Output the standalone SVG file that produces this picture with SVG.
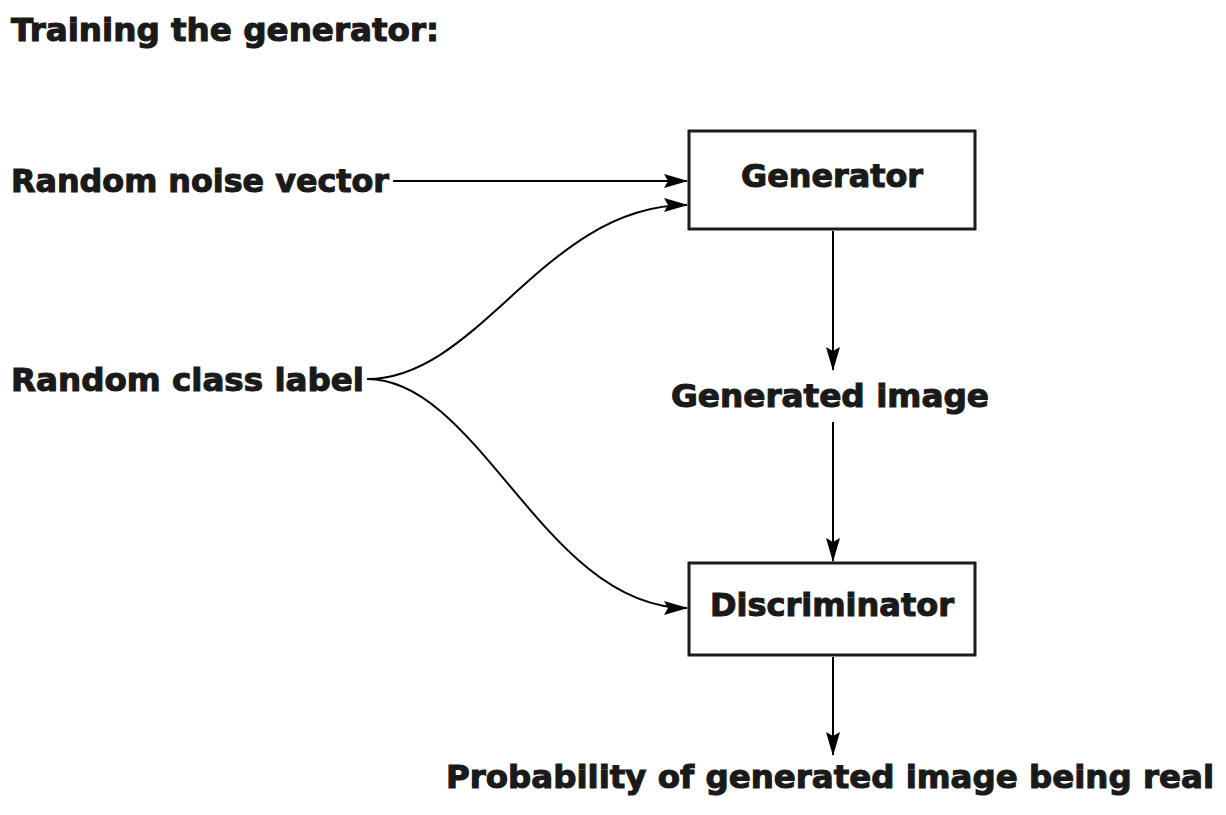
<svg xmlns="http://www.w3.org/2000/svg" width="1226" height="815" viewBox="0 0 1226 815">
<style>
text{font-family:"DejaVu Sans","Open Sans",sans-serif;font-weight:bold;fill:#1a1a1a;stroke:#1a1a1a;stroke-width:1.1;font-size:32px}
.box{fill:#fff;stroke:#1a1a1a;stroke-width:3}
.con{fill:none;stroke:#000;stroke-width:2}
</style>
<defs>
<marker id="ah" markerWidth="24" markerHeight="16" refX="23" refY="8" orient="auto" markerUnits="userSpaceOnUse">
<path d="M0,1 L24,8 L0,15 L4,8 Z" fill="#000"/>
</marker>
</defs>
<rect width="1226" height="815" fill="#fff" stroke="none"/>
<text x="11" y="41" textLength="428" lengthAdjust="spacingAndGlyphs">Training the generator:</text>
<g id="noise"><text x="11" y="192" textLength="378" lengthAdjust="spacingAndGlyphs">Random noise vector</text></g>
<g id="label"><text x="11" y="391" textLength="353" lengthAdjust="spacingAndGlyphs">Random class label</text></g>
<g id="generator">
<rect class="box" x="689" y="131" width="286" height="98"/>
<text x="832" y="187" text-anchor="middle" textLength="182" lengthAdjust="spacingAndGlyphs">Generator</text>
</g>
<g id="genimage"><text x="830" y="407" text-anchor="middle" textLength="318" lengthAdjust="spacingAndGlyphs">Generated image</text></g>
<g id="discriminator">
<rect class="box" x="689" y="563" width="286" height="92"/>
<text x="832" y="616" text-anchor="middle" textLength="244" lengthAdjust="spacingAndGlyphs">Discriminator</text>
</g>
<g id="prob"><text x="446" y="788" textLength="768" lengthAdjust="spacingAndGlyphs">Probability of generated image being real</text></g>
<g id="connectors">
<path class="con" d="M393,181 L687,181" marker-end="url(#ah)"/>
<path class="con" d="M367,379 C480,379 545,205 687,205" marker-end="url(#ah)"/>
<path class="con" d="M367,379 C480,379 545,608 687,608" marker-end="url(#ah)"/>
<path class="con" d="M833,231 L833,370" marker-end="url(#ah)"/>
<path class="con" d="M833,422 L833,561" marker-end="url(#ah)"/>
<path class="con" d="M833,657 L833,755" marker-end="url(#ah)"/>
</g>
</svg>
